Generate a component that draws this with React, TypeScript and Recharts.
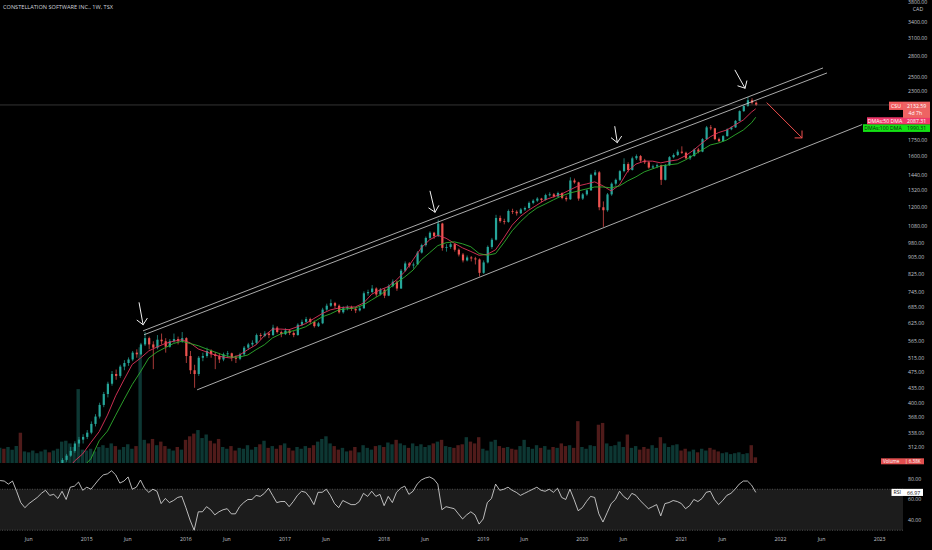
import React from 'react';
import {
  ComposedChart,
  Bar,
  Line,
  XAxis,
  YAxis,
  ReferenceLine,
  ReferenceArea,
  ReferenceDot,
  Cell,
} from 'recharts';

const FONT = "'Open Sans', 'Noto Sans', 'DejaVu Sans', sans-serif";
const UP = '#26a69a';
const DOWN = '#ef5350';
const TEXT = '#c3c6ce';

// time grid: half-month steps starting mid-Feb 2014
const START_YEAR = 2014.125;
const STEP_YEARS = 1 / 24;
const X_MIN = 2014.124;
const X_MAX = 2023.236;

const opens = [
  236, 240, 238, 244, 248, 252, 250, 256, 260, 262,
  266, 270, 275, 272, 280, 284, 290, 297, 305, 318,
  325, 330, 338, 355, 370, 395, 420, 445, 470, 465,
  490, 500, 510, 530, 525, 555, 575, 555, 545, 570,
  565, 548, 565, 572, 565, 575, 520, 480, 470, 515,
  520, 535, 525, 520, 510, 525, 528, 515, 512, 525,
  545, 555, 560, 585, 582, 590, 585, 610, 595, 588,
  600, 592, 585, 620, 630, 640, 630, 615, 625, 675,
  690, 700, 690, 665, 680, 685, 678, 672, 680, 740,
  745, 760, 735, 755, 730, 770, 790, 760, 840, 875,
  865, 870, 930, 970, 1010, 1040, 1020, 1095, 955, 960,
  975, 945, 920, 890, 905, 900, 895, 830, 880, 960,
  1000, 1130, 1110, 1105, 1175, 1170, 1160, 1185, 1195, 1230,
  1245, 1260, 1250, 1285, 1290, 1275, 1300, 1265, 1255, 1395,
  1380, 1260, 1290, 1320, 1440, 1460, 1200, 1180, 1290, 1370,
  1400, 1470, 1530, 1480, 1580, 1600, 1560, 1545, 1500, 1510,
  1520, 1400, 1520, 1590, 1610, 1640, 1630, 1580, 1600, 1660,
  1640, 1760, 1880, 1870, 1760, 1740, 1790, 1860, 1880, 1950,
  2060, 2120, 2190, 2160,
];

const highs = [
  242, 243, 246, 250, 254, 254, 258, 262, 265, 268,
  272, 277, 278, 282, 287, 293, 300, 312, 322, 330,
  335, 343, 360, 375, 400, 425, 450, 478, 482, 495,
  508, 516, 535, 540, 560, 595, 580, 565, 585, 590,
  575, 572, 590, 580, 595, 578, 535, 495, 520, 530,
  545, 540, 532, 528, 530, 535, 530, 522, 530, 550,
  560, 568, 590, 592, 598, 595, 620, 615, 600, 608,
  605, 598, 625, 638, 648, 645, 635, 630, 682, 698,
  715, 705, 695, 688, 692, 690, 685, 690, 748, 755,
  775, 765, 762, 760, 778, 800, 795, 848, 885, 882,
  880, 938, 978, 1018, 1048, 1045, 1120, 1100, 975, 985,
  980, 952, 928, 915, 912, 908, 900, 890, 968, 1010,
  1150, 1145, 1125, 1185, 1190, 1180, 1195, 1205, 1240, 1255,
  1270, 1265, 1295, 1305, 1300, 1310, 1305, 1280, 1420, 1410,
  1385, 1300, 1330, 1450, 1480, 1470, 1240, 1300, 1380, 1410,
  1480, 1580, 1545, 1595, 1615, 1610, 1575, 1555, 1525, 1535,
  1525, 1530, 1600, 1625, 1660, 1690, 1640, 1610, 1670, 1675,
  1770, 1895, 1905, 1875, 1775, 1800, 1870, 1890, 1960, 2070,
  2130, 2230, 2215, 2175,
];

const lows = [
  234, 235, 237, 242, 246, 246, 249, 254, 257, 260,
  263, 268, 269, 271, 277, 281, 287, 295, 302, 312,
  318, 326, 335, 350, 366, 390, 412, 440, 455, 460,
  480, 492, 505, 515, 522, 550, 540, 483, 540, 555,
  530, 545, 560, 555, 560, 500, 470, 435, 465, 505,
  515, 515, 483, 500, 505, 515, 505, 500, 508, 520,
  538, 548, 555, 570, 578, 575, 582, 590, 578, 585,
  585, 578, 583, 615, 625, 622, 610, 612, 622, 670,
  685, 680, 660, 660, 672, 670, 662, 668, 678, 730,
  740, 725, 730, 720, 728, 765, 750, 758, 835, 855,
  850, 868, 925, 962, 1000, 1005, 1015, 940, 935, 950,
  935, 910, 880, 885, 885, 870, 813, 825, 875, 950,
  995, 1100, 1090, 1100, 1155, 1145, 1155, 1175, 1190, 1220,
  1235, 1235, 1245, 1275, 1265, 1270, 1255, 1240, 1250, 1370,
  1245, 1250, 1280, 1315, 1430, 1180, 1075, 1170, 1280, 1355,
  1390, 1460, 1460, 1475, 1565, 1545, 1530, 1490, 1490, 1495,
  1360, 1395, 1515, 1580, 1600, 1620, 1570, 1565, 1595, 1625,
  1635, 1755, 1850, 1750, 1730, 1735, 1785, 1850, 1875, 1945,
  2050, 2110, 2140, 2120,
];

const closes = [
  240, 238, 244, 248, 252, 250, 256, 260, 262, 266,
  270, 275, 272, 280, 284, 290, 297, 305, 318, 325,
  330, 338, 355, 370, 395, 420, 445, 470, 465, 490,
  500, 510, 530, 525, 555, 575, 555, 545, 570, 565,
  548, 565, 572, 565, 575, 520, 480, 470, 515, 520,
  535, 525, 520, 510, 525, 528, 515, 512, 525, 545,
  555, 560, 585, 582, 590, 585, 610, 595, 588, 600,
  592, 585, 620, 630, 640, 630, 615, 625, 675, 690,
  700, 690, 665, 680, 685, 678, 672, 680, 740, 745,
  760, 735, 755, 730, 770, 790, 760, 840, 875, 865,
  870, 930, 970, 1010, 1040, 1020, 1095, 955, 960, 975,
  945, 920, 890, 905, 900, 895, 830, 880, 960, 1000,
  1130, 1110, 1105, 1175, 1170, 1160, 1185, 1195, 1230, 1245,
  1260, 1250, 1285, 1290, 1275, 1300, 1265, 1255, 1395, 1380,
  1260, 1290, 1320, 1440, 1460, 1200, 1180, 1290, 1370, 1400,
  1470, 1530, 1480, 1580, 1600, 1560, 1545, 1500, 1510, 1520,
  1400, 1520, 1590, 1610, 1640, 1630, 1580, 1600, 1660, 1640,
  1760, 1880, 1870, 1760, 1740, 1790, 1860, 1880, 1950, 2060,
  2120, 2190, 2160, 2132.59,
];

// volume, thousands of shares
const volumes = [
  17, 16, 18, 15, 19, 34, 13, 12, 14, 11,
  13, 15, 12, 14, 16, 24, 25, 22, 18, 83,
  15, 14, 16, 13, 18, 20, 17, 22, 19, 15,
  18, 21, 16, 19, 130, 26, 22, 27, 20, 24,
  19, 16, 14, 18, 15, 26, 30, 33, 37, 28,
  32, 25, 22, 27, 18, 16, 19, 14, 17, 16,
  20, 15, 18, 21, 25, 17, 19, 16, 20, 22,
  17, 14, 18, 16, 19, 17, 20, 24, 27, 30,
  22, 19, 15, 17, 13, 14, 18, 12, 20, 17,
  15, 19, 20, 18, 23, 21, 26, 22, 20, 17,
  22, 19, 21, 18, 20, 22, 24, 26, 19, 18,
  17, 20, 21, 29, 24, 22, 29, 16, 14, 24,
  26, 19, 17, 18, 16, 15, 19, 26, 18, 16,
  20, 17, 19, 15, 18, 17, 22, 19, 20, 17,
  47, 18, 16, 20, 19, 43, 45, 22, 19, 20,
  24, 18, 32, 17, 19, 15, 18, 16, 20, 17,
  29, 22, 18, 20, 21, 14, 16, 13, 15, 12,
  16, 14, 17, 15, 13, 11, 12, 10, 11, 12,
  10, 11, 20, 6.38,
];

const rsi = [
  78.5, 78, 75, 78, 68, 57, 52, 56, 59, 62,
  66, 69, 64, 65, 61, 68, 60, 72, 73, 77,
  69, 72, 70, 75, 80, 84, 85, 88, 84, 76,
  78, 82, 70, 72, 79, 71, 67, 70, 68, 56,
  61, 57, 59, 62, 63, 52, 40, 30, 48, 48,
  53, 50, 45, 48, 50, 51, 46, 46, 53, 57,
  60, 60, 64, 63, 66, 71, 64, 57, 58, 58,
  53, 58, 64, 68, 67, 62, 55, 67, 67, 70,
  64, 56, 52, 59, 57, 55, 55, 58, 66, 63,
  68, 63, 65, 54, 63, 57, 67, 71, 73, 65,
  68, 75, 79, 81, 82, 80, 75, 50, 53, 52,
  51, 46, 41, 45, 48, 45, 36, 41, 57, 61,
  75, 69, 70, 72, 69, 67, 64, 66, 68, 70,
  72, 69, 68, 70, 67, 71, 62, 60, 70, 60,
  49, 52, 58, 63, 62, 46, 38, 47, 56, 60,
  68, 63, 60, 66, 64, 59, 55, 51, 53, 55,
  44, 56, 57, 59, 58, 56, 51, 54, 60, 58,
  61, 67, 68, 60, 55, 59, 64, 66, 70, 75,
  78, 78, 74, 66.97,
];

// monthly readings of the moving averages (last value = latest week)
const ma50 = [
  228, 232, 238, 243, 248, 252, 257, 263, 272, 288,
  300, 320, 340, 373, 416, 455, 496, 514, 535, 547,
  558, 565, 570, 560, 541, 532, 523, 517, 514, 523,
  539, 554, 583, 605, 605, 603, 613, 624, 642, 660,
  674, 681, 685, 685, 700, 736, 754, 768, 798, 835,
  893, 955, 999, 1025, 1008, 980, 955, 936, 916, 921,
  945, 1010, 1085, 1140, 1180, 1215, 1251, 1272, 1293, 1323,
  1353, 1368, 1384, 1353, 1315, 1360, 1470, 1530, 1555, 1555,
  1540, 1555, 1566, 1603, 1656, 1722, 1784, 1826, 1853, 1906,
  1960, 2050, 2087.31,
];

const ma100 = [
  215, 219, 223, 227, 231, 235, 240, 245, 252, 262,
  278, 292, 323, 341, 373, 407, 443, 476, 514, 532,
  545, 558, 565, 558, 551, 541, 532, 523, 517, 517,
  523, 539, 554, 576, 589, 596, 603, 613, 630, 648,
  659, 674, 678, 681, 693, 713, 733, 758, 785, 811,
  843, 893, 929, 967, 983, 988, 977, 961, 925, 916,
  925, 983, 1051, 1106, 1155, 1195, 1222, 1251, 1279, 1300,
  1315, 1330, 1345, 1345, 1338, 1353, 1392, 1424, 1464, 1489,
  1514, 1523, 1532, 1566, 1610, 1656, 1703, 1722, 1752, 1803,
  1853, 1930, 1990.31,
];

const priceTicks = [
  3800, 3400, 3100, 2800, 2500, 2300, 1750, 1600, 1440, 1320, 1200, 1080,
  980, 905, 825, 745, 685, 625, 565, 515, 475, 435, 400, 368, 338, 312,
];
const rsiTicks = [40, 60, 80];
const xTickValues = [
  2014.414, 2015, 2015.414, 2016, 2016.414, 2017, 2017.414, 2018, 2018.414,
  2019, 2019.414, 2020, 2020.414, 2021, 2021.414, 2022, 2022.414, 2023,
];
const xTickLabels = [
  'Jun', '2015', 'Jun', '2016', 'Jun', '2017', 'Jun', '2018', 'Jun',
  '2019', 'Jun', '2020', 'Jun', '2021', 'Jun', '2022', 'Jun', '2023',
];

// channel drawn on the chart (date, price) pairs
const channelLines = [
  { t1: 2015.567, p1: 599, t2: 2022.429, p2: 2626 },
  { t1: 2015.577, p1: 586, t2: 2022.469, p2: 2553 },
  { t1: 2016.113, p1: 430, t2: 2022.824, p2: 1910 },
];

// arrow annotations: tip at (date, price)
const arrowTips = [
  { t: 2015.568, p: 620, dx: -4, dy: -22 },
  { t: 2018.514, p: 1167, dx: -5, dy: -21 },
  { t: 2020.353, p: 1726, dx: -2.5, dy: -16 },
  { t: 2021.642, p: 2343, dx: -10, dy: -18 },
];
const redArrow = { t: 2022.217, p: 1772, dx: -35, dy: -35 };

const lastClose = closes[closes.length - 1];
const lastMa50 = ma50[ma50.length - 1];
const lastMa100 = ma100[ma100.length - 1];
const lastRsi = rsi[rsi.length - 1];
const lastVolume = volumes[volumes.length - 1];

const rows = closes.map((c, i) => {
  const last = i === closes.length - 1;
  const mi = last ? ma50.length - 1 : i % 2 === 0 ? i / 2 : -1;
  return {
    t: START_YEAR + i * STEP_YEARS,
    o: opens[i],
    h: highs[i],
    l: lows[i],
    c,
    range: [lows[i], highs[i]],
    vol: volumes[i],
    rsi: rsi[i],
    ma50: mi >= 0 ? ma50[mi] : null,
    ma100: mi >= 0 ? ma100[mi] : null,
  };
});

const Candle = (props: any) => {
  const { x, y, width, height, payload } = props;
  if (!payload || !isFinite(x) || !isFinite(y) || !isFinite(height) || height <= 0) return null;
  const { o, h, l, c } = payload;
  const color = c >= o ? UP : DOWN;
  const lh = Math.log(h);
  const ll = Math.log(l);
  const toY = (v: number) => y + (height * (lh - Math.log(v))) / (lh - ll);
  const cx = x + width / 2;
  const top = toY(Math.max(o, c));
  const bot = toY(Math.min(o, c));
  const bw = 2.2;
  return (
    <g>
      <line x1={cx} x2={cx} y1={y} y2={y + height} stroke={color} strokeWidth={0.7} />
      <rect x={cx - bw / 2} y={top} width={bw} height={Math.max(0.8, bot - top)} fill={color} />
    </g>
  );
};

const makeArrow = (dx: number, dy: number, color: string, spread: number, len: number) => (props: any) => {
  const { cx, cy } = props;
  if (!isFinite(cx) || !isFinite(cy)) return <g />;
  const L = Math.hypot(dx, dy);
  const bx = dx / L;
  const by = dy / L;
  const rot = (a: number) => [bx * Math.cos(a) - by * Math.sin(a), bx * Math.sin(a) + by * Math.cos(a)];
  const [ax1, ay1] = rot(spread);
  const [ax2, ay2] = rot(-spread);
  return (
    <g stroke={color} strokeWidth={1} fill="none" strokeLinecap="round" strokeLinejoin="round">
      <line x1={cx + dx} y1={cy + dy} x2={cx} y2={cy} />
      <polyline points={`${cx + ax1 * len},${cy + ay1 * len} ${cx},${cy} ${cx + ax2 * len},${cy + ay2 * len}`} />
    </g>
  );
};

type TagOpts = {
  name: string;
  value: string;
  sub?: string;
  fill: string;
  valueFill: string;
  nameColor: string;
  valueColor: string;
  nameWidth: number;
  top: number;
  nameBottom: number;
  valueBottom: number;
  valueWidth: number;
};

const makeTag = (o: TagOpts) => (props: any) => {
  const { cx, cy } = props;
  if (!isFinite(cx) || !isFinite(cy)) return <g />;
  const y0 = cy + o.top;
  const nh = o.nameBottom - o.top;
  const vh = o.valueBottom - o.top;
  return (
    <g fontFamily={FONT} fontSize={5.2}>
      <rect x={cx - o.nameWidth} y={y0} width={o.nameWidth} height={nh} fill={o.fill} />
      <text x={cx - o.nameWidth / 2} y={y0 + nh / 2 + 1.8} textAnchor="middle" fill={o.nameColor}>
        {o.name}
      </text>
      <rect x={cx} y={y0} width={o.valueWidth} height={vh} fill={o.valueFill} />
      <text x={cx + 4} y={y0 + 5.9} fill={o.valueColor}>
        {o.value}
      </text>
      {o.sub ? (
        <text x={cx + 5.5} y={y0 + 13.3} fill={o.valueColor}>
          {o.sub}
        </text>
      ) : null}
    </g>
  );
};

const csuTag = makeTag({
  name: 'CSU', value: lastClose.toFixed(2), sub: '4d 7h', fill: '#f25b5e', valueFill: '#ee6363',
  nameColor: '#ffffff', valueColor: '#ffffff', nameWidth: 14, top: -3.3, nameBottom: 5, valueBottom: 13, valueWidth: 27,
});
const ma50Tag = makeTag({
  name: 'DMAs:50 DMA', value: lastMa50.toFixed(2), fill: '#f0386b', valueFill: '#f0386b',
  nameColor: '#ffffff', valueColor: '#ffffff', nameWidth: 36, top: 8.5, nameBottom: 15.5, valueBottom: 15.5, valueWidth: 27,
});
const ma100Tag = makeTag({
  name: 'DMAs:100 DMA', value: lastMa100.toFixed(2), fill: '#14e014', valueFill: '#14e014',
  nameColor: '#102010', valueColor: '#102010', nameWidth: 40, top: 7, nameBottom: 14.7, valueBottom: 14.7, valueWidth: 27,
});
const rsiTag = makeTag({
  name: 'RSI', value: lastRsi.toFixed(2), fill: '#ffffff', valueFill: '#ffffff',
  nameColor: '#111111', valueColor: '#111111', nameWidth: 11.5, top: -3.5, nameBottom: 3.6, valueBottom: 3.6, valueWidth: 20,
});

const XTick = (props: any) => {
  const { x, y, payload } = props;
  const idx = xTickValues.indexOf(payload.value);
  const label = idx >= 0 ? xTickLabels[idx] : '';
  return (
    <text x={x} y={y + 4} textAnchor="middle" fill={TEXT} fontSize={5.2} fontFamily={FONT}>
      {label}
    </text>
  );
};

const axisTick = { fill: TEXT, fontSize: 5.2, fontFamily: FONT };

export default function App() {
  return (
    <div
      style={{
        position: 'absolute',
        left: 0,
        top: 0,
        width: 932,
        height: 550,
        background: '#000',
        overflow: 'hidden',
      }}
    >
      <div style={{ position: 'absolute', left: 0, top: 0 }}>
        <ComposedChart width={932} height={465} data={rows} margin={{ top: 0, right: 0, bottom: 2, left: 0 }}>
          <XAxis xAxisId="a" dataKey="t" type="number" domain={[X_MIN, X_MAX]} allowDataOverflow hide />
          <XAxis xAxisId="b" dataKey="t" type="number" domain={[X_MIN, X_MAX]} allowDataOverflow hide />
          <YAxis
            yAxisId="p"
            orientation="right"
            width={29}
            scale="log"
            type="number"
            domain={[285, 3847]}
            allowDataOverflow
            ticks={priceTicks}
            interval={0}
            tickFormatter={(v: number) => v.toFixed(2)}
            tick={axisTick}
            tickLine={false}
            tickSize={0}
            tickMargin={5}
            axisLine={false}
          />
          <YAxis yAxisId="v" type="number" domain={[0, 520]} allowDataOverflow hide />
          <Bar xAxisId="b" yAxisId="v" dataKey="vol" barSize={3.4} isAnimationActive={false}>
            {rows.map((r, i) => (
              <Cell key={i} fill={r.c >= r.o ? 'rgba(38,166,154,0.33)' : 'rgba(239,83,80,0.33)'} />
            ))}
          </Bar>
          <ReferenceLine xAxisId="a" yAxisId="p" y={lastClose} stroke="#4a4a4a" strokeWidth={0.7} />
          <Bar xAxisId="a" yAxisId="p" dataKey="range" barSize={3} shape={Candle} isAnimationActive={false} />
          <Line
            xAxisId="a"
            yAxisId="p"
            dataKey="ma50"
            stroke="#e0335a"
            strokeWidth={0.9}
            dot={false}
            connectNulls
            isAnimationActive={false}
          />
          <Line
            xAxisId="a"
            yAxisId="p"
            dataKey="ma100"
            stroke="#2fae2f"
            strokeWidth={0.9}
            dot={false}
            connectNulls
            isAnimationActive={false}
          />
          {channelLines.map((c, i) => (
            <ReferenceLine
              key={`ch${i}`}
              xAxisId="a"
              yAxisId="p"
              segment={[
                { x: c.t1, y: c.p1 },
                { x: c.t2, y: c.p2 },
              ]}
              stroke="#d6d6d6"
              strokeWidth={0.8}
              ifOverflow="visible"
            />
          ))}
          {arrowTips.map((a, i) => (
            <ReferenceDot
              key={`ar${i}`}
              xAxisId="a"
              yAxisId="p"
              x={a.t}
              y={a.p}
              r={1}
              shape={makeArrow(a.dx, a.dy, '#f2f2f2', 0.75, 7.5)}
            />
          ))}
          <ReferenceDot
            xAxisId="a"
            yAxisId="p"
            x={redArrow.t}
            y={redArrow.p}
            r={1}
            shape={makeArrow(redArrow.dx, redArrow.dy, '#f0504f', 0.785, 7)}
          />
          <ReferenceDot xAxisId="a" yAxisId="p" x={X_MAX} y={lastMa100} r={1} shape={ma100Tag} />
          <ReferenceDot xAxisId="a" yAxisId="p" x={X_MAX} y={lastMa50} r={1} shape={ma50Tag} />
          <ReferenceDot xAxisId="a" yAxisId="p" x={X_MAX} y={lastClose} r={1} shape={csuTag} />
        </ComposedChart>
      </div>
      <div style={{ position: 'absolute', left: 0, top: 465 }}>
        <ComposedChart width={932} height={85} data={rows} margin={{ top: 0, right: 0, bottom: 0, left: 0 }}>
          <XAxis
            dataKey="t"
            type="number"
            domain={[X_MIN, X_MAX]}
            allowDataOverflow
            ticks={xTickValues}
            interval={0}
            height={17}
            tick={XTick}
            tickLine={false}
            tickSize={0}
            tickMargin={4}
            axisLine={false}
          />
          <YAxis
            orientation="right"
            width={29}
            type="number"
            domain={[27.3, 93.66]}
            allowDataOverflow
            ticks={rsiTicks}
            interval={0}
            tickFormatter={(v: number) => v.toFixed(2)}
            tick={axisTick}
            tickLine={false}
            tickSize={0}
            tickMargin={5}
            axisLine={false}
          />
          <ReferenceArea y1={30} y2={70} fill="#1c1c1c" fillOpacity={1} stroke="none" />
          <ReferenceLine y={70} stroke="#6a6a6a" strokeWidth={0.7} strokeDasharray="1 1.5" />
          <ReferenceLine y={30} stroke="#6a6a6a" strokeWidth={0.7} strokeDasharray="1 1.5" />
          <Line dataKey="rsi" stroke="#e4e4e4" strokeWidth={0.8} dot={false} isAnimationActive={false} />
          <ReferenceDot x={X_MAX} y={lastRsi} r={1} shape={rsiTag} />
        </ComposedChart>
      </div>
      <svg
        width={932}
        height={550}
        style={{ position: 'absolute', left: 0, top: 0, pointerEvents: 'none' }}
        fontFamily={FONT}
      >
        <text x={3} y={9.4} fill="#d1d4dc" fontSize={5.6} textLength={110} lengthAdjust="spacingAndGlyphs">
          CONSTELLATION SOFTWARE INC., 1W, TSX
        </text>
        <text x={918} y={10.5} fill={TEXT} fontSize={5.2} textAnchor="middle">
          CAD
        </text>
        <rect x={881} y={458.3} width={43} height={6} fill="#e14f4f" />
        <text x={883} y={463} fill="#ffffff" fontSize={4.6}>
          Volume
        </text>
        <text x={905} y={463} fill="#ffffff" fontSize={4.6}>
          | {lastVolume.toFixed(2)}K
        </text>
      </svg>
    </div>
  );
}
